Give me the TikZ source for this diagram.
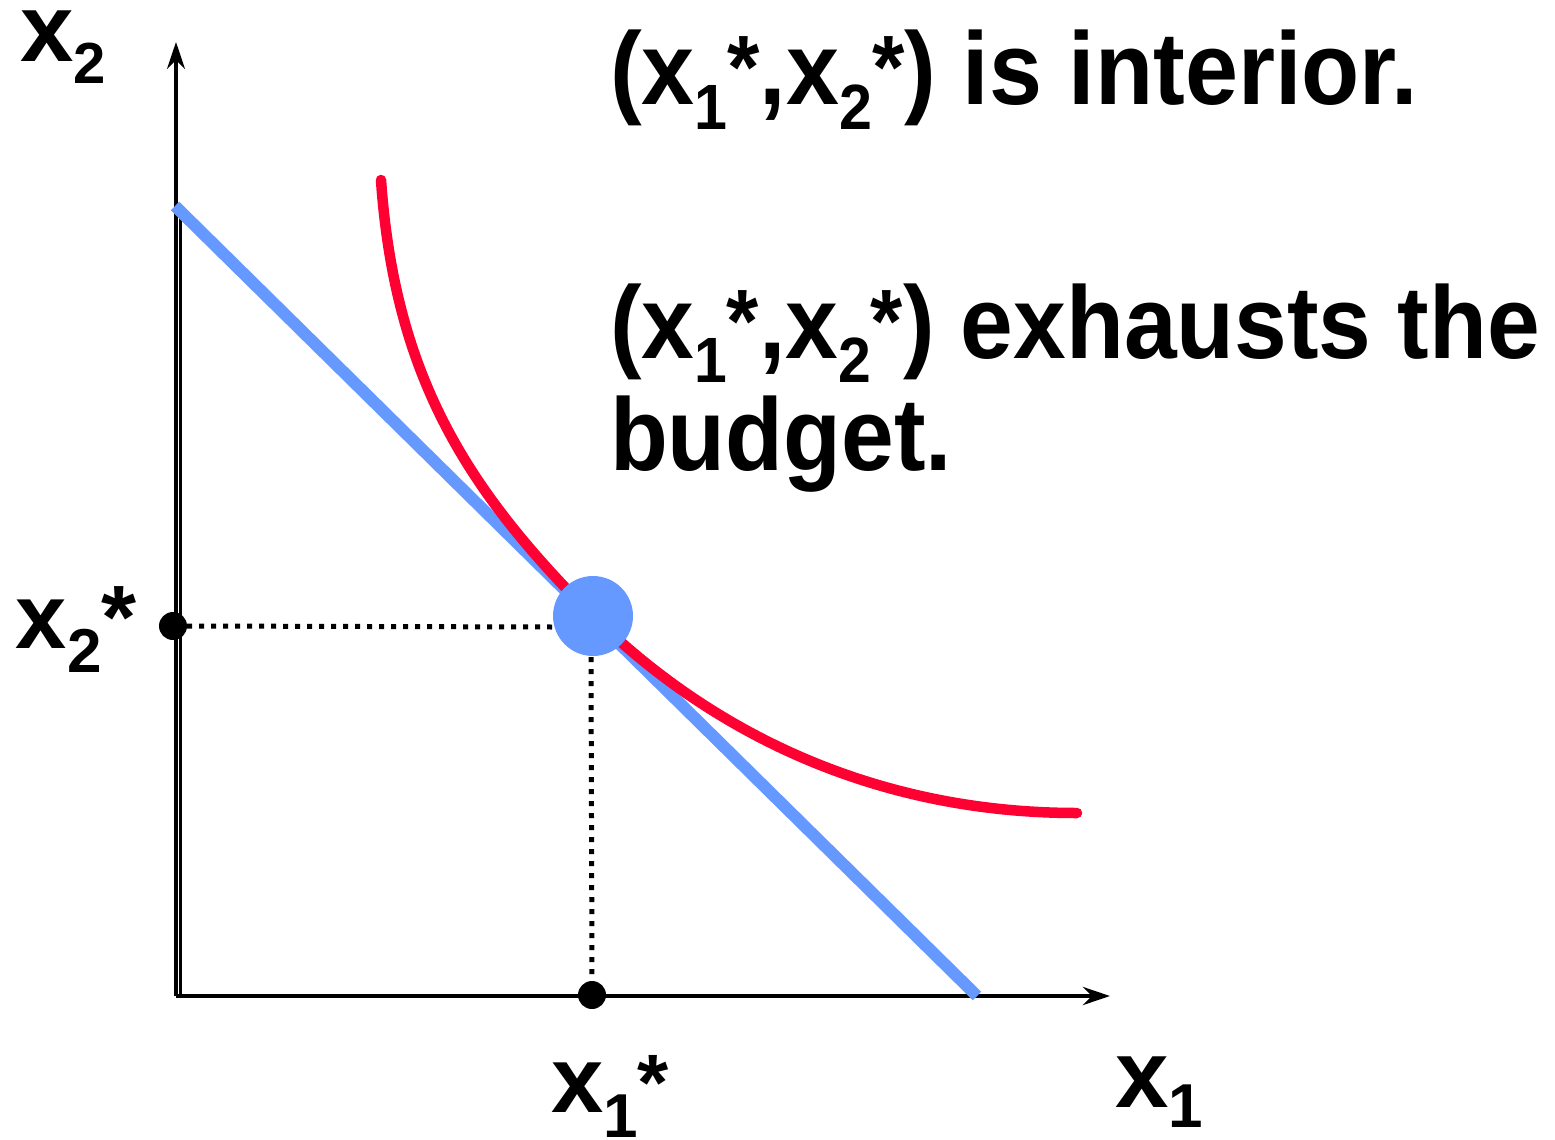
\documentclass[tikz,border=0pt]{standalone}
\usepackage{fontspec}
\setmainfont{Liberation Sans}
\usetikzlibrary{arrows.meta}
\definecolor{budgetblue}{HTML}{6699FF}
\definecolor{curvered}{HTML}{FF0033}
\newcommand\fsz[1]{\fontsize{#1}{#1}\selectfont}
% x with subscript: digit, size, drop
\newcommand\xsb[3]{x\raisebox{-#3}{\fsz{#2}#1}}
% raised star: size, raise
\newcommand\rst[2]{\raisebox{#2}{\fsz{#1}*}}
\newcommand\pair{(\xsb{1}{64}{24pt}\rst{90}{6pt},\xsb{2}{64}{24pt}\rst{90}{6pt})}
\tikzset{
  lbl/.style={anchor=base west, inner sep=0pt, outer sep=0pt, font=\bfseries},
  axisline/.style={black, line width=3.5pt},
  dotline/.style={black, line width=5pt, dash pattern=on 5pt off 7pt},
  blackdot/.style={circle, fill=black, inner sep=0pt, minimum size=28pt},
}
\begin{document}
\begin{tikzpicture}[x=1pt, y=-1pt]
\useasboundingbox (0,0) rectangle (1555,1140);
% coordinates
\coordinate (O) at (176,996);
\coordinate (ytip) at (176,42);
\coordinate (xtip) at (1110,996);
\coordinate (yb) at (180.5,215);
\coordinate (ye) at (180.5,997);
\coordinate (bs) at (175,206);
\coordinate (be) at (977,996);
\coordinate (cs) at (381,180);
\coordinate (cm) at (593,616);
\coordinate (ce) at (1077,813);
% axes
\draw[axisline, -{Stealth[length=27pt, width=18pt, inset=9pt]}] (O) -- (ytip);
\draw[black, line width=2.5pt] (yb) -- (ye);
\draw[black, line width=4.5pt, -{Stealth[length=27pt, width=18pt, inset=9pt]}] (O) -- (xtip);
% dotted guides
\node[blackdot] (d2) at (173,626) {};
\node[blackdot] (d1) at (592,995) {};
\coordinate (h2) at (553,627);
\coordinate (v1) at (591,657);
\draw[dotline] (d2.east) -- (h2);
\draw[dotline] (v1) -- (d1.north);
% budget line
\draw[budgetblue, line width=12pt] (bs) -- (be);
% indifference curve
\draw[curvered, line width=10.5pt, line cap=round]
  (cs) .. controls (395,380) and (470,493) .. (cm)
       .. controls (713,734) and (877,813) .. (ce);
% optimum
\node[circle, fill=budgetblue, inner sep=0pt, minimum size=80pt] (opt) at (cm) {};
% axis labels
\node[lbl] (lx2) at (20,62) {\fsz{96}\xsb{2}{58}{21pt}};
\node[lbl] (lx2s) at (16,648) {\fsz{92}\xsb{2}{62}{24pt}\rst{90}{0pt}};
\node[lbl] (lx1s) at (551,1112) {\fsz{94}\xsb{1}{62}{25pt}\rst{80}{2pt}};
\node[lbl] (lx1) at (1115,1107) {\fsz{96}\xsb{1}{62}{20pt}};
% statements
\node[lbl] (t1) at (610,105) {\resizebox{808pt}{\height}{\fsz{103}\bfseries\pair{} is interior.}};
\node[lbl] (t2) at (610,358) {\resizebox{930pt}{\height}{\vtop{\baselineskip=112pt\lineskiplimit=-300pt
  \hbox{\fsz{103}\bfseries\pair{} exhausts the}\hbox{\fsz{103}\bfseries budget.}}}};
\end{tikzpicture}
\end{document}
